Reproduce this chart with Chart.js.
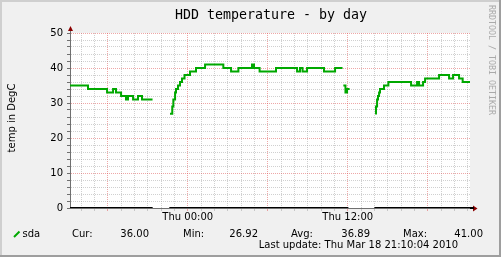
<!DOCTYPE html>
<html>
<head>
<meta charset="utf-8">
<script src="https://cdn.jsdelivr.net/npm/chart.js@4.4.0/dist/chart.umd.min.js"></script>
<style>
  body { margin: 0; background: #f0f0f0; }
  canvas { display: block; }
</style>
</head>
<body>
<canvas id="hddtemp-day-chart" width="501" height="257"></canvas>
<script>
// hours relative to Thu 00:00, null = no data
var hours = [-8.83, -7.48, -6.05, -5.60, -5.38, -5.00, -4.63, -4.48, -4.10, -3.73, -3.43, -2.64, -2.0,
    -1.33, -1.16, -1.08, -0.95, -0.88, -0.73, -0.58, -0.43, -0.24, 0.17, 0.62, 1.30, 2.67, 3.25, 3.80,
    4.82, 4.97, 5.39, 6.62, 8.20, 8.42, 8.61, 8.95, 10.22, 11.05, 11.61, 11.64,
    11.67, 11.83, 11.95, 12.14, 13.0,
    14.05, 14.12, 14.20, 14.27, 14.35, 14.42, 14.72, 15.05, 16.75, 17.20, 17.35, 17.65, 17.80,
    18.85, 19.60, 19.90, 20.35, 20.62, 21.17];
var temps = [35, 34, 33, 34, 33, 32, 31, 32, 31, 32, 31, 31, null,
    26.92, 29, 31, 33, 34, 35, 36, 37, 38, 39, 40, 41, 40, 39, 40,
    41, 40, 39, 40, 39, 40, 39, 40, 39, 40, 40, null,
    35, 33, 34, 34, null,
    27, 29, 31, 32, 33, 34, 35, 36, 35, 36, 35, 36, 37,
    38, 37, 38, 37, 36, 36];

var zeroHours = [-8.83, -2.63, -2.0, -1.38, 12.05, 13.0, 14.0, 21.17];
var zeroValues = [0, 0, null, 0, 0, null, 0, 0];

var xLabelHours = [0, 12];
var xLabelTexts = ['Thu 00:00', 'Thu 12:00'];

var statLabels = ['Cur:', 'Min:', 'Avg:', 'Max:'];
var statValues = [36.00, 26.92, 36.89, 41.00];

var xMin = -8.83, xMax = 21.17;
var lineGreen = '#00a800';
var majorGrid = 'rgba(222, 80, 80, 0.5)';
var minorGrid = 'rgba(143, 143, 143, 0.42)';
var axisColor = '#707070';
var arrowColor = '#8b0000';

function toPoints(xs, ys) {
    var out = [];
    for (var i = 0; i < xs.length; i++) {
        out.push({ x: xs[i], y: ys[i] });
    }
    return out;
}

var rrdFrame = {
    id: 'rrdFrame',
    beforeDraw: function (chart) {
        var ctx = chart.ctx, a = chart.chartArea;
        ctx.save();
        ctx.fillStyle = '#f0f0f0';
        ctx.fillRect(0, 0, 501, 257);
        ctx.fillStyle = '#cfcfcf';
        ctx.fillRect(0, 0, 501, 2);
        ctx.fillRect(0, 0, 2, 257);
        ctx.fillStyle = '#9e9e9e';
        ctx.fillRect(0, 255, 501, 2);
        ctx.fillRect(499, 0, 2, 257);
        ctx.fillStyle = '#ffffff';
        ctx.fillRect(a.left, a.top, a.right - a.left, a.bottom - a.top);
        ctx.restore();
    },
    afterDraw: function (chart) {
        var ctx = chart.ctx, a = chart.chartArea;
        ctx.save();

        // axis extensions + arrows
        ctx.strokeStyle = axisColor;
        ctx.lineWidth = 1;
        ctx.beginPath();
        ctx.moveTo(a.left + 0.5, a.top);
        ctx.lineTo(a.left + 0.5, a.top - 3);
        ctx.stroke();
        ctx.fillStyle = arrowColor;
        ctx.beginPath();
        ctx.moveTo(a.left - 2, a.top - 2);
        ctx.lineTo(a.left + 3, a.top - 2);
        ctx.lineTo(a.left + 0.5, a.top - 7);
        ctx.closePath();
        ctx.fill();
        ctx.beginPath();
        ctx.moveTo(a.right + 3, a.bottom - 2.5);
        ctx.lineTo(a.right + 3, a.bottom + 3.5);
        ctx.lineTo(a.right + 7.5, a.bottom + 0.5);
        ctx.closePath();
        ctx.fill();
        ctx.strokeStyle = '#000';
        ctx.lineWidth = 2;
        ctx.beginPath();
        ctx.moveTo(a.right, a.bottom);
        ctx.lineTo(a.right + 4, a.bottom);
        ctx.stroke();

        // title
        ctx.fillStyle = '#000';
        ctx.font = '13.3px "DejaVu Sans Mono"';
        ctx.textAlign = 'center';
        ctx.textBaseline = 'alphabetic';
        ctx.fillText('HDD temperature - by day', 271, 18.5);

        // y axis title
        ctx.font = '10px "DejaVu Sans"';
        ctx.save();
        ctx.translate(14.5, 118);
        ctx.rotate(-Math.PI / 2);
        ctx.fillText('temp in DegC', 0, 0);
        ctx.restore();

        // watermark
        ctx.save();
        ctx.fillStyle = '#aaaaaa';
        ctx.font = '8.3px "DejaVu Sans Mono"';
        ctx.textAlign = 'left';
        ctx.translate(488.5, 5);
        ctx.rotate(Math.PI / 2);
        ctx.fillText('RRDTOOL / TOBI OETIKER', 0, 0);
        ctx.restore();

        // legend
        ctx.strokeStyle = lineGreen;
        ctx.lineWidth = 2;
        ctx.beginPath();
        ctx.moveTo(14, 237);
        ctx.lineTo(19.5, 231.5);
        ctx.stroke();

        ctx.font = '10px "DejaVu Sans"';
        ctx.textAlign = 'left';
        ctx.fillText('sda', 22.5, 236.5);
        var labelX = [72, 183, 291, 403];
        var valueX = [149, 258, 370, 483];
        for (var i = 0; i < statLabels.length; i++) {
            ctx.textAlign = 'left';
            ctx.fillText(statLabels[i], labelX[i], 236.5);
            ctx.textAlign = 'right';
            ctx.fillText(statValues[i].toFixed(2), valueX[i], 236.5);
        }
        ctx.textAlign = 'right';
        ctx.fillText('Last update: Thu Mar 18 21:10:04 2010', 458, 247.5);
        ctx.restore();
    }
};

var hddCanvas = document.getElementById('hddtemp-day-chart');

var hddChart = new Chart(hddCanvas, {
    type: 'line',
    data: {
        datasets: [
            {
                label: 'zero',
                data: toPoints(zeroHours, zeroValues),
                borderColor: '#000000',
                borderWidth: 2,
                pointRadius: 0,
                spanGaps: false
            },
            {
                label: 'sda',
                data: toPoints(hours, temps),
                borderColor: lineGreen,
                borderWidth: 2,
                stepped: true,
                pointRadius: 0,
                spanGaps: false
            }
        ]
    },
    options: {
        responsive: false,
        animation: false,
        devicePixelRatio: 1,
        layout: { padding: { top: 33, right: 31, bottom: 0, left: 0 } },
        plugins: {
            legend: { display: false },
            tooltip: { enabled: false },
            title: { display: false }
        },
        scales: {
            x: {
                type: 'linear',
                min: xMin,
                max: xMax,
                afterBuildTicks: function (axis) {
                    var t = [];
                    for (var h = Math.ceil(xMin); h <= xMax; h++) t.push({ value: h });
                    axis.ticks = t;
                },
                afterFit: function (scale) { scale.height = 49; },
                border: { color: axisColor, width: 1, dash: [1, 1] },
                grid: {
                    color: function (c) {
                        return c.tick && c.tick.value % 6 === 0 ? majorGrid : minorGrid;
                    },
                    tickLength: 3,
                    tickBorderDash: []
                },
                ticks: {
                    autoSkip: false,
                    maxRotation: 0,
                    padding: 0,
                    color: '#000',
                    font: { family: 'DejaVu Sans', size: 10 },
                    callback: function (value) {
                        var i = xLabelHours.indexOf(value);
                        return i >= 0 ? xLabelTexts[i] : '';
                    }
                }
            },
            y: {
                min: 0,
                max: 50,
                afterFit: function (scale) { scale.width = 70; },
                border: { color: axisColor, width: 1, dash: [1, 1] },
                grid: {
                    color: function (c) {
                        return c.tick && c.tick.value % 10 === 0 ? majorGrid : minorGrid;
                    },
                    tickLength: 3,
                    tickColor: axisColor,
                    tickBorderDash: []
                },
                ticks: {
                    stepSize: 2,
                    autoSkip: false,
                    padding: 4,
                    color: '#000',
                    font: { family: 'DejaVu Sans', size: 10 },
                    callback: function (value) {
                        return value % 10 === 0 ? value : '';
                    }
                }
            }
        }
    },
    plugins: [rrdFrame]
});
</script>
</body>
</html>
